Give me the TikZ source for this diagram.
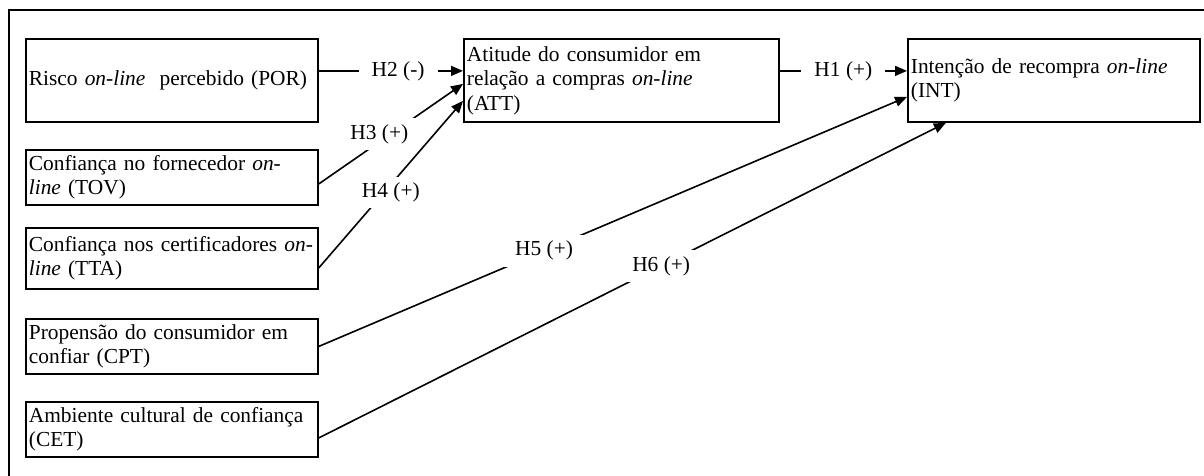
\documentclass[tikz,border=0pt]{standalone}
\usepackage{fontspec}
\setmainfont{Liberation Serif}
\usetikzlibrary{arrows.meta}
\tikzset{
  box/.style={draw, line width=1.8pt, anchor=north west, align=left, inner xsep=3pt, inner ysep=0pt,
    font=\fontsize{21.4}{24.5}\selectfont},
  conn/.style={line width=1.6pt, -{Triangle[length=12pt,width=10pt]}},
  lab/.style={fill=white, inner xsep=13pt, inner ysep=6pt, font=\fontsize{21.4}{24.5}\selectfont},
}
\begin{document}
\begin{tikzpicture}[x=1pt,y=-1pt]
\useasboundingbox (0,0) rectangle (1204,475);
\clip (0,0) rectangle (1204,475);
\draw[line width=1.7pt] (9,490) -- (9,10) -- (1220,10);
% left column
\node[box, minimum width=292pt, minimum height=83pt, text width=286pt] (por) at (25,38) {Risco \textit{on-line}\ \ percebido (POR)};
\node[box, minimum width=292pt, minimum height=55pt, text width=286pt] (tov) at (25,149) {Confiança no fornecedor \textit{on-}\\\textit{line} (TOV)};
\node[box, minimum width=292pt, minimum height=61pt, text width=286pt] (tta) at (25,227) {Confiança nos certificadores \textit{on-}\\\textit{line} (TTA)};
\node[box, minimum width=292pt, minimum height=55pt, text width=286pt] (cpt) at (25,318) {Propensão do consumidor em\\confiar (CPT)};
\node[box, minimum width=292pt, minimum height=55pt, text width=286pt] (cet) at (25,401) {Ambiente cultural de confiança\\(CET)};
% middle and right
\node[box, minimum width=315pt, minimum height=83pt, text width=309pt] (att) at (463,38) {Atitude do consumidor em\\relação a compras \textit{on-line}\\(ATT)};
\node[box, minimum width=292pt, minimum height=83pt, text width=286pt] (int) at (907,38) {Intenção de recompra \textit{on-line}\\(INT)};
% connectors
\draw[conn] ([yshift=9.5pt]por.east) -- node[lab, pos=0.55] {H2 (-)} ([yshift=9.5pt]att.west);
\draw[conn] ([yshift=9.5pt]att.east) -- node[lab, pos=0.5] {H1 (+)} ([yshift=9.5pt]int.west);
\draw[conn] ([yshift=-6.5pt]tov.east) -- node[lab, pos=0.42, yshift=8pt] {H3 (+)} ([yshift=-3.5pt]att.west);
\draw[conn] ([yshift=-9.5pt]tta.east) -- node[lab, pos=0.5, yshift=-8pt] {H4 (+)} ([yshift=-20.5pt]att.west);
\draw[conn] (cpt.east) -- node[lab, pos=0.383] {H5 (+)} ([yshift=-16.5pt]int.west);
\draw[conn] ([yshift=-8.5pt]cet.east) -- node[lab, pos=0.546] {H6 (+)} ([xshift=-108pt]int.south);
\end{tikzpicture}
\end{document}
